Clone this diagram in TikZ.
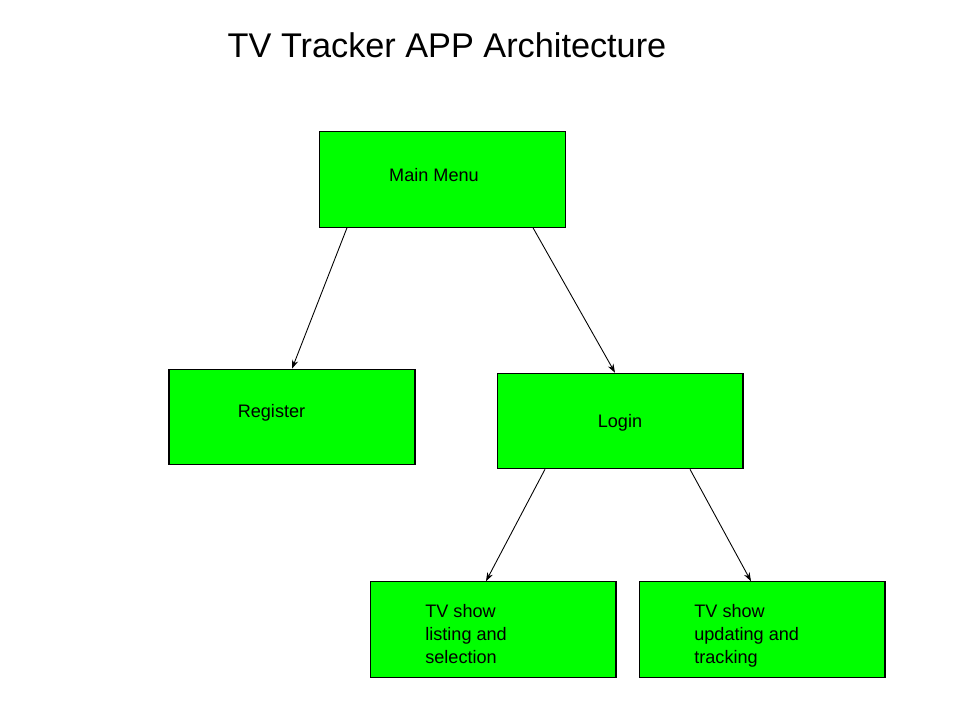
\documentclass[tikz,border=0pt]{standalone}
\usepackage{fontspec}
\setmainfont{Liberation Sans}
\usetikzlibrary{arrows.meta,calc}

\begin{document}
\begin{tikzpicture}[x=0.02cm,y=-0.02cm,
	block/.style={draw=black,line width=0.6pt,fill=green,minimum width=4.92cm,minimum height=1.91cm,inner sep=0pt},
	lbl/.style={font=\fontsize{10.3}{13}\selectfont,inner sep=0pt},
	link/.style={line width=0.5pt,arrows={-Stealth[length=5pt,width=3.5pt]}}]
	\useasboundingbox (0,0) rectangle (960,720);
	\node[font=\fontsize{19.5}{23}\selectfont,inner sep=0pt,anchor=base] (title) at (447,57) {TV Tracker APP Architecture};
	% boxes
	\node[block] (main) at (442.5,179.5) {};
	\node[block] (register) at (292,417) {};
	\node[block] (login) at (620,421) {};
	\node[block] (listing) at (493,629.5) {};
	\node[block] (updating) at (762,629.5) {};
	% box texts
	\node[lbl,anchor=base] (mainlbl) at (434,181) {Main Menu};
	\node[lbl,anchor=base] (registerlbl) at (271.5,417) {Register};
	\node[lbl,anchor=base] (loginlbl) at (620,427) {Login};
	\node[lbl,anchor=base west,align=left] (listinglbl) at (425,663) {TV show\\listing and\\selection};
	\node[lbl,anchor=base west,align=left] (updatinglbl) at (694,663) {TV show\\updating and\\tracking};
	% links
	\draw[link] ($(main.south)+(-95.5,0)$) -- (register.north);
	\draw[link] ($(main.south)+(90.5,0)$) -- ($(login.north)+(-5,0)$);
	\draw[link] ($(login.south)+(-75,0)$) -- ($(listing.north)+(-7,0)$);
	\draw[link] ($(login.south)+(70,0)$) -- ($(updating.north)+(-11,0)$);
\end{tikzpicture}
\end{document}
